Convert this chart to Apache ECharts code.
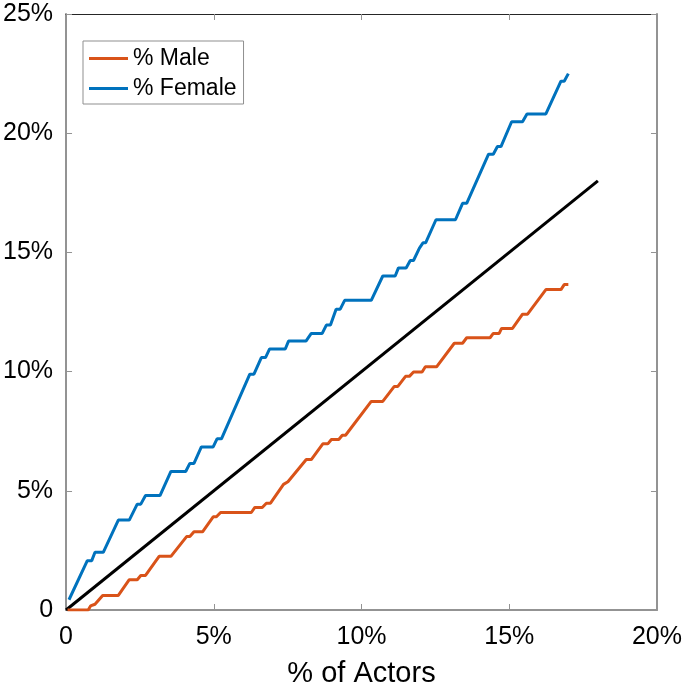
<!DOCTYPE html>
<html>
<head>
<meta charset="utf-8">
<script src="https://cdn.jsdelivr.net/npm/echarts@6/dist/echarts.min.js"></script>
<style>
html,body{margin:0;padding:0;background:#fff;}
#chart{width:685px;height:693px;}
</style>
</head>
<body>
<div id="chart"></div>
<script>
// Data (percent values)
const xTicks = [0, 5, 10, 15, 20];
const yTicks = [0, 5, 10, 15, 20, 25];
const seriesNames = ['% Male', '% Female'];

const maleData = [
  [0.05,0],[0.75,0],[0.83,0.17],[0.98,0.24],[1.24,0.61],[1.77,0.61],[2.14,1.27],[2.41,1.27],
  [2.53,1.45],[2.69,1.45],[3.15,2.25],[3.55,2.25],[4.08,3.08],[4.19,3.08],[4.33,3.28],[4.62,3.28],
  [4.98,3.91],[5.09,3.91],[5.23,4.09],[6.27,4.09],[6.39,4.30],[6.64,4.30],[6.78,4.48],[6.92,4.48],
  [7.36,5.27],[7.51,5.38],[8.13,6.31],[8.30,6.31],[8.69,6.97],[8.86,6.97],[8.98,7.15],[9.23,7.15],
  [9.35,7.33],[9.46,7.33],[10.33,8.75],[10.72,8.75],[11.11,9.38],[11.23,9.38],[11.49,9.80],[11.62,9.80],
  [11.76,9.98],[12.05,9.98],[12.16,10.20],[12.54,10.20],[13.14,11.19],[13.42,11.19],[13.56,11.42],[14.35,11.42],
  [14.46,11.60],[14.66,11.60],[14.74,11.81],[15.11,11.81],[15.45,12.41],[15.62,12.41],[16.24,13.44],[16.75,13.44],
  [16.86,13.65],[17.00,13.65]
];

const femaleData = [
  [0.10,0.43],[0.72,2.07],[0.87,2.07],[0.98,2.42],[1.26,2.42],[1.77,3.77],[2.14,3.77],[2.41,4.44],
  [2.53,4.44],[2.69,4.80],[3.18,4.80],[3.55,5.81],[4.05,5.81],[4.19,6.15],[4.33,6.15],[4.58,6.84],
  [4.98,6.84],[5.11,7.18],[5.26,7.18],[6.22,9.89],[6.36,9.89],[6.61,10.59],[6.75,10.59],[6.89,10.95],
  [7.42,10.95],[7.53,11.28],[8.12,11.28],[8.30,11.60],[8.67,11.60],[8.81,11.95],[8.95,11.95],[9.14,12.62],
  [9.28,12.62],[9.43,12.99],[10.33,12.99],[10.72,14.01],[11.14,14.01],[11.25,14.35],[11.51,14.35],[11.65,14.66],
  [11.76,14.66],[11.96,15.18],[12.08,15.40],[12.17,15.40],[12.52,16.37],[13.18,16.37],[13.42,17.06],[13.56,17.06],
  [14.30,19.12],[14.46,19.12],[14.60,19.44],[14.72,19.44],[15.08,20.48],[15.45,20.48],[15.60,20.81],[16.24,20.81],
  [16.75,22.18],[16.86,22.18],[17.00,22.50]
];

const diagonalData = [[0,0],[18,18]];

const FONT = '"Liberation Sans", Arial, Helvetica, sans-serif';
const fmt = v => v === 0 ? '0' : v + '%';
const grayAxis = '#939393';

const chart = echarts.init(document.getElementById('chart'), null, {renderer: 'canvas'});
chart.setOption({
  animation: false,
  backgroundColor: '#fff',
  textStyle: {fontFamily: FONT},
  grid: {left: 66, right: 25, top: 14, bottom: 80, containLabel: false},
  legend: {
    data: seriesNames,
    left: 83, top: 41,
    orient: 'vertical',
    padding: [6, 7, 4, 6],
    itemGap: 7,
    icon: 'rect',
    itemWidth: 39, itemHeight: 3,
    backgroundColor: '#fff',
    borderColor: '#8f8f8f', borderWidth: 1,
    textStyle: {fontSize: 23, color: '#000', fontFamily: FONT}
  },
  xAxis: [{
    type: 'value', position: 'bottom', min: 0, max: 20, interval: 5,
    name: '% of Actors', nameLocation: 'middle', nameGap: 49,
    nameTextStyle: {fontSize: 29, color: '#000', fontFamily: FONT},
    axisLine: {show: true, onZero: false, lineStyle: {color: grayAxis, width: 2}},
    axisTick: {show: true, inside: true, length: 6, lineStyle: {color: grayAxis, width: 1}},
    axisLabel: {fontSize: 25, color: '#000', margin: 15, formatter: fmt, fontFamily: FONT},
    splitLine: {show: false}
  }, {
    type: 'value', position: 'top', min: 0, max: 20, interval: 5,
    axisLine: {show: true, onZero: false, lineStyle: {color: '#262626', width: 1}},
    axisTick: {show: true, inside: true, length: 6, lineStyle: {color: grayAxis, width: 1}},
    axisLabel: {show: false},
    splitLine: {show: false}
  }],
  yAxis: [{
    type: 'value', position: 'left', min: 0, max: 25, interval: 5,
    axisLine: {show: true, onZero: false, lineStyle: {color: grayAxis, width: 2}},
    axisTick: {show: true, inside: true, length: 6, lineStyle: {color: grayAxis, width: 1}},
    axisLabel: {fontSize: 25, color: '#000', margin: 13, formatter: fmt, fontFamily: FONT},
    splitLine: {show: false}
  }, {
    type: 'value', position: 'right', min: 0, max: 25, interval: 5,
    axisLine: {show: true, onZero: false, lineStyle: {color: grayAxis, width: 2}},
    axisTick: {show: true, inside: true, length: 6, lineStyle: {color: grayAxis, width: 1}},
    axisLabel: {show: false},
    splitLine: {show: false}
  }],
  series: [{
    name: seriesNames[0], type: 'line', data: maleData,
    xAxisIndex: 0, yAxisIndex: 0,
    showSymbol: false, symbol: 'none',
    lineStyle: {color: '#D95319', width: 3}, itemStyle: {color: '#D95319'}, z: 3
  }, {
    name: seriesNames[1], type: 'line', data: femaleData,
    xAxisIndex: 0, yAxisIndex: 0,
    showSymbol: false, symbol: 'none',
    lineStyle: {color: '#0072BD', width: 3}, itemStyle: {color: '#0072BD'}, z: 3
  }, {
    name: 'diagonal', type: 'line', data: diagonalData,
    xAxisIndex: 0, yAxisIndex: 0,
    showSymbol: false, symbol: 'none',
    lineStyle: {color: '#000', width: 3}, itemStyle: {color: '#000'}, z: 2
  }]
});
</script>
</body>
</html>
